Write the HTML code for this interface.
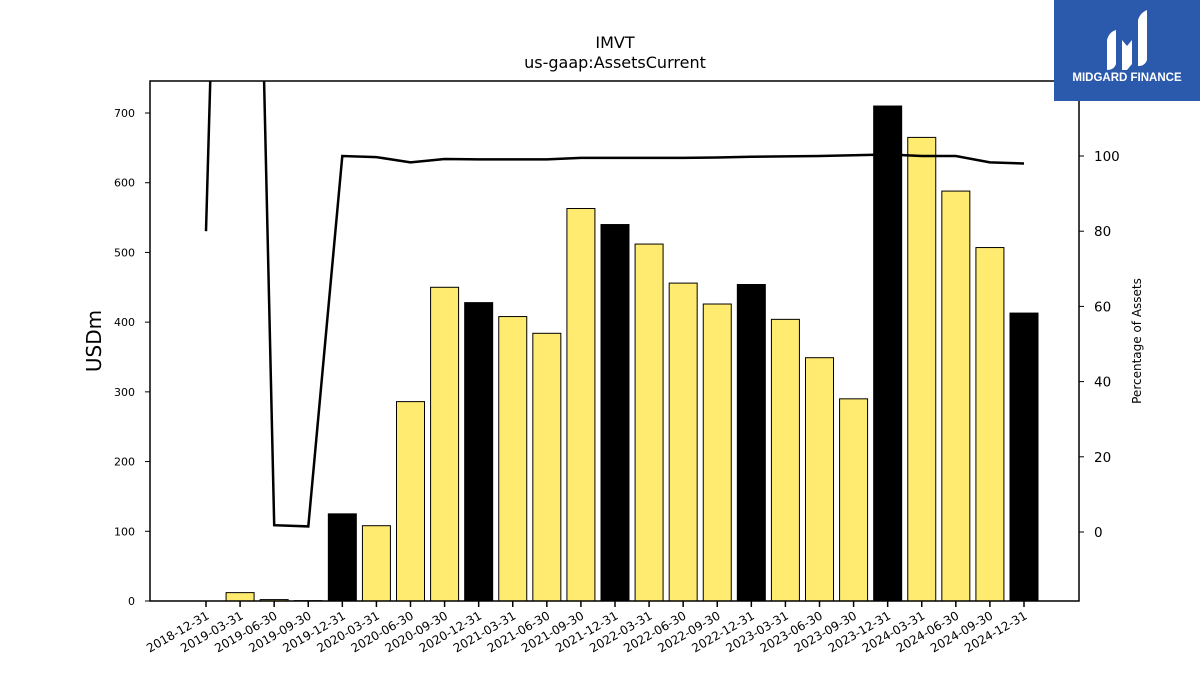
<!DOCTYPE html>
<html><head><meta charset="utf-8"><style>
body{margin:0;background:#fff;font-family:"Liberation Sans","DejaVu Sans",sans-serif;}
svg text{font-family:"DejaVu Sans","Liberation Sans",sans-serif;}
</style></head><body>
<svg id="chart" width="1200" height="675" xmlns="http://www.w3.org/2000/svg">
<rect width="1200" height="675" fill="#fff"/>
<text x="615" y="48" text-anchor="middle" font-size="16">IMVT</text>
<text x="615" y="68" text-anchor="middle" font-size="16">us-gaap:AssetsCurrent</text>
<g id="bars"></g><g id="lineg"></g><g id="axes"></g>
<rect x="150" y="81" width="929" height="520" fill="none" stroke="#000" stroke-width="1.5"/>
<text transform="translate(101,341) rotate(-90)" text-anchor="middle" font-size="20">USDm</text>
<text transform="translate(1141,341) rotate(-90)" text-anchor="middle" font-size="12">Percentage of Assets</text>
<g>
<rect x="1054" y="0" width="146" height="101" fill="#2b5aad"/>
<path d="M1107 70 L1107 40 Q1109 32 1116 30 L1116 64 Q1114 70 1107 70Z M1122 70 L1122 40 L1127 46 L1132 40 L1132 64 L1127 70Z M1138 66 L1138 20 Q1140 13 1147 10 L1147 60 Q1145 66 1138 66Z" fill="#fff"/>
<text x="1127" y="81" text-anchor="middle" font-size="11.5" font-weight="bold" fill="#fff" style="font-family:'Liberation Sans',sans-serif">MIDGARD FINANCE</text>
</g>
</svg>
<script>
const categories=["2018-12-31","2019-03-31","2019-06-30","2019-09-30","2019-12-31","2020-03-31","2020-06-30","2020-09-30","2020-12-31","2021-03-31","2021-06-30","2021-09-30","2021-12-31","2022-03-31","2022-06-30","2022-09-30","2022-12-31","2023-03-31","2023-06-30","2023-09-30","2023-12-31","2024-03-31","2024-06-30","2024-09-30","2024-12-31"];
const assetsValues=[0,12,2,0.5,125,108,286,450,428,408,384,563,540,512,456,426,454,404,349,290,710,665,588,507,413];
const pctValues=[80,400,1.8,1.5,100,99.7,98.3,99.2,99.1,99.1,99.1,99.5,99.5,99.5,99.5,99.6,99.8,99.9,100,100.2,100.4,100,100,98.3,98];
const leftTicks=[0,100,200,300,400,500,600,700];
const rightTicks=[0,20,40,60,80,100];
const NS="http://www.w3.org/2000/svg";
const X0=150,X1=1079,Y0=81,Y1=601;
const xS=i=>206+i*(1024-206)/24;
const yL=v=>601-v*(601-113)/700;
const yR=v=>532-v*(532-156)/100;
function mk(t,a,p){const e=document.createElementNS(NS,t);for(const k in a)e.setAttribute(k,a[k]);p.appendChild(e);return e;}
const bars=document.getElementById('bars'),axes=document.getElementById('axes'),lg=document.getElementById('lineg');
const bw=28;
assetsValues.forEach((v,i)=>{
 const q4=categories[i].endsWith('12-31');
 const r=mk('rect',{x:xS(i)-bw/2,y:yL(v),width:bw,height:yL(0)-yL(v),fill:q4?'#000':'#ffeb70',stroke:'#000','stroke-width':1},bars);
 
 
});
const clip=mk('clipPath',{id:'pc'},document.getElementById('chart'));
mk('rect',{x:X0,y:Y0,width:X1-X0,height:Y1-Y0},clip);
const pts=pctValues.map((v,i)=>xS(i).toFixed(1)+','+yR(v).toFixed(1)).join(' ');
const pl=mk('polyline',{points:pts,fill:'none',stroke:'#000','stroke-width':2.5,'clip-path':'url(#pc)'},lg);


leftTicks.forEach(t=>{
 mk('line',{x1:X0-5,x2:X0,y1:yL(t),y2:yL(t),stroke:'#000'},axes);
 const tx=mk('text',{x:X0-15,y:yL(t)+4,'text-anchor':'end','font-size':11},axes);tx.textContent=t;
 
 
});
rightTicks.forEach(t=>{
 mk('line',{x1:X1,x2:X1+5,y1:yR(t),y2:yR(t),stroke:'#000'},axes);
 const tx=mk('text',{x:X1+15,y:yR(t)+5,'font-size':13.5},axes);tx.textContent=t;
 
 
});
categories.forEach((c,i)=>{
 const x=xS(i);
 mk('line',{x1:x,x2:x,y1:Y1,y2:Y1+6,stroke:'#000','stroke-width':1.5},axes);
 const tx=mk('text',{transform:`translate(${x+4},${Y1+17}) rotate(-30)`,'text-anchor':'end','font-size':12},axes);tx.textContent=c;
 
 
});
</script>
</body></html>
